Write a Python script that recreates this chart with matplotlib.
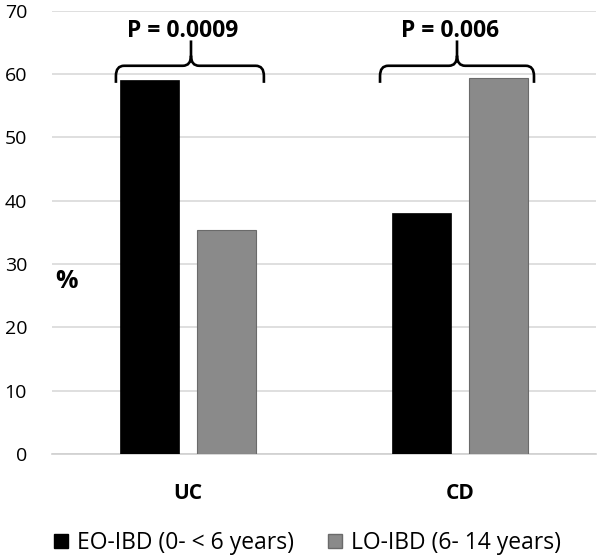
import matplotlib
matplotlib.use("Agg")
import matplotlib.pyplot as plt
from matplotlib.path import Path
from matplotlib.patches import PathPatch
from matplotlib.lines import Line2D
import numpy as np

categories = ["UC", "CD"]
series_names = ["EO-IBD (0- < 6 years)", "LO-IBD (6- 14 years)"]
eo_values = [59.1, 38.1]
lo_values = [35.4, 59.4]
p_labels = ["P = 0.0009", "P = 0.006"]
yticks = [0, 10, 20, 30, 40, 50, 60, 70]

plt.rcParams['font.family'] = ['Open Sans', 'DejaVu Sans']

fig = plt.figure(figsize=(5.98, 5.58), dpi=100)
ax = fig.add_axes([52/598, 104.2/558, 544/598, (453.8-10.7)/558])

x = np.arange(len(categories))
w = 0.22
off = 0.1415
ax.bar(x - off, eo_values, width=w, color="black", edgecolor="black", linewidth=0.5, zorder=3)
ax.bar(x + off, lo_values, width=w, color="#8a8a8a", edgecolor="#6a6a6a", linewidth=0.8, zorder=3)

ax.set_xlim(-0.5, 1.5)
ax.set_ylim(0, 70)
ax.set_yticks(yticks)
ax.set_yticklabels([str(t) for t in yticks], fontsize=14)
ax.tick_params(axis='y', length=0, pad=18, labelcolor="#000000")
ax.set_xticks(x)
ax.set_xticklabels(categories, fontsize=15, fontweight='bold')
ax.tick_params(axis='x', length=0, pad=21)
ax.grid(axis='y', color="#d9d9d9", linewidth=1.2, zorder=0)
for s in ["top", "right", "left"]:
    ax.spines[s].set_visible(False)
ax.spines["bottom"].set_color("#d0d0d0")
ax.spines["bottom"].set_linewidth(1.2)
ax.set_axisbelow(True)

def brace(ax, x0, x1, xm, ybot, ytop, ypeak, rx=0.03, ry=1.6):
    verts = [
        (x0, ybot), (x0, ytop - ry), (x0, ytop), (x0 + rx, ytop),
        (xm - rx, ytop), (xm, ytop), (xm, ytop + ry), (xm, ypeak),
        (xm, ytop + ry), (xm, ytop), (xm + rx, ytop),
        (x1 - rx, ytop), (x1, ytop), (x1, ytop - ry), (x1, ybot),
    ]
    codes = [Path.MOVETO, Path.LINETO, Path.CURVE3, Path.CURVE3,
             Path.LINETO, Path.CURVE3, Path.CURVE3, Path.LINETO,
             Path.MOVETO, Path.CURVE3, Path.CURVE3,
             Path.LINETO, Path.CURVE3, Path.CURVE3, Path.LINETO]
    p = PathPatch(Path(verts, codes), facecolor='none', edgecolor='black',
                  linewidth=1.9, capstyle='butt', joinstyle='round', clip_on=False, zorder=5)
    ax.add_patch(p)

brace(ax, -0.265, 0.279, 0.011, 58.6, 61.3, 65.3)
brace(ax, 0.706, 1.272, 0.989, 58.6, 61.3, 65.3)
ax.text(-0.021, 66.8, p_labels[0], ha='center', va='center', fontsize=16.5, fontweight='bold', clip_on=False)
ax.text(0.963, 66.8, p_labels[1], ha='center', va='center', fontsize=16.5, fontweight='bold', clip_on=False)

fig.text(66/598, 1 - 281/558, "%", ha='center', va='center', fontsize=18, fontweight='bold')

handles = [Line2D([], [], marker='s', linestyle='none', markersize=10, markerfacecolor='black', markeredgecolor='black'),
           Line2D([], [], marker='s', linestyle='none', markersize=10, markerfacecolor='#8a8a8a', markeredgecolor='#6a6a6a')]
fig.legend(handles, series_names, loc='center', bbox_to_anchor=(0.5125, 1 - 543/558), ncol=2,
           frameon=False, fontsize=16.5, handlelength=0.8, handletextpad=0.3, columnspacing=1.4)

fig.savefig("out.png", dpi=100)
